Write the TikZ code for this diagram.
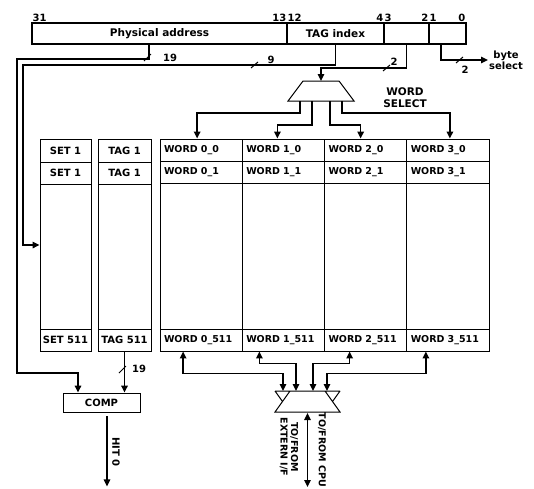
\documentclass[tikz,border=0pt]{standalone}
\usepackage{fontspec}
\setmainfont{DejaVu Sans}
\usetikzlibrary{arrows.meta,positioning,calc}

\begin{document}
\begin{tikzpicture}[x=1pt,y=-1pt,
 every node/.style={font=\fontsize{10}{11}\selectfont\bfseries},
 fld/.style={draw,line width=1.2pt,minimum height=21pt,inner sep=0pt,font=\fontsize{10.5}{12}\selectfont\bfseries},
 bit/.style={inner sep=1pt},
 cell/.style={draw,line width=0.9pt,minimum height=22pt,inner sep=0pt},
 wcell/.style={draw,line width=0.9pt,minimum height=22pt,text width=74.25pt,inner xsep=4pt,inner ysep=0pt,align=left,font=\fontsize{9.5}{10.5}\selectfont\bfseries},
 col/.style={draw,line width=0.9pt,minimum height=212pt,inner sep=0pt},
 bus/.style={line width=1.5pt,-{Triangle[length=7pt,width=6.5pt]}},
 bbus/.style={line width=1.5pt,{Triangle[length=7pt,width=6.5pt]}-{Triangle[length=7pt,width=6.5pt]}},
 tick/.style={line width=1pt}]
\useasboundingbox (0,0) rectangle (534,488);

% address register
\node[fld,minimum width=255pt] (phys) at (159.5,33.5) {Physical address};
\node[fld,minimum width=97pt] (tagi) at (335.5,33.5) {TAG index};
\node[fld,minimum width=45pt] (wfld) at (406.5,33.5) {};
\node[fld,minimum width=37pt] (bfld) at (447.5,33.5) {};
\node[bit,anchor=south west] (b31) at (phys.north west) {31};
\node[bit,anchor=south east] (b13) at (phys.north east) {13};
\node[bit,anchor=south west] (b12) at (tagi.north west) {12};
\node[bit,anchor=south east] (b4) at (tagi.north east) {4};
\node[bit,anchor=south west] (b3) at (wfld.north west) {3};
\node[bit,anchor=south east] (b2) at (wfld.north east) {2};
\node[bit,anchor=south west] (b1) at (bfld.north west) {1};
\node[bit,anchor=south east] (b0) at (bfld.north east) {0};

% set and tag columns
\node[col,minimum width=51pt] (scol) at (65.5,245) {};
\node[cell,minimum width=51pt,minimum height=23pt] (s1) at (65.5,150.5) {SET 1};
\node[cell,minimum width=51pt] (s2) at (65.5,173) {SET 1};
\node[cell,minimum width=51pt] (s511) at (65.5,340) {SET 511};
\node[col,minimum width=53pt] (tcol) at (124.5,245) {};
\node[cell,minimum width=53pt,minimum height=23pt] (t1) at (124.5,150.5) {TAG 1};
\node[cell,minimum width=53pt] (t2) at (124.5,173) {TAG 1};
\node[cell,minimum width=53pt] (t511) at (124.5,340) {TAG 511};

% data words
\foreach \i in {0,1,2,3}{
 \node[col,minimum width=82.25pt] (wc\i) at (201.125+82.25*\i,245) {};
 \node[wcell] (w\i-a) at (201.125+82.25*\i,150) {WORD \i\_0};
 \node[wcell] (w\i-b) at (201.125+82.25*\i,172.5) {WORD \i\_1};
 \node[wcell] (w\i-z) at (201.125+82.25*\i,340) {WORD \i\_511};
}

% comparator
\node[draw,line width=0.9pt,minimum width=77pt,minimum height=19pt,inner sep=0pt] (comp) at (101.5,402.5) {COMP};

% word select mux
\coordinate (ws) at (321,91);
\draw[line width=1pt] ($(ws)+(-18,-10)$) -- ($(ws)+(18,-10)$) -- ($(ws)+(33,10)$) -- ($(ws)+(-33,10)$) -- cycle;
\node[align=center,font=\fontsize{10.5}{12}\selectfont\bfseries] (wstxt) at (405,98) {WORD\\SELECT};
\draw[bus] (wfld.south) |- ($(ws)+(0,-23)$) -- ($(ws)+(0,-10)$);
\draw[bus] ($(ws)+(-21,10)$) -- ++(0,12) -| ([xshift=-4pt]w0-a.north);
\draw[bus] ($(ws)+(-9,10)$) -- ++(0,24) -| ([xshift=-6pt]w1-a.north);
\draw[bus] ($(ws)+(9,10)$) -- ++(0,24) -| ([xshift=-5pt]w2-a.north);
\draw[bus] ($(ws)+(21,10)$) -- ++(0,12) -| ([xshift=2pt]w3-a.north);

% address lines
\draw[bus] ([xshift=-10.5pt]phys.south) |- (17,59) -- (17,373) -| ([xshift=-23.5pt]comp.north);
\draw[bus] (tagi.south) |- (23,65) |- (scol.west);
\draw[bus] ([xshift=-6.5pt]bfld.south) |- (488,60) coordinate (bsel);
\node[anchor=west,align=center,inner sep=1pt] (bseltx) at (bsel) {byte\\select};
\draw[tick] (144,61) -- (151,54);
\node (n19a) at (170,58) {19};
\draw[tick] (251,68) -- (258,62);
\node (n9) at (271,60) {9};
\draw[tick] (383,71) -- (390,65);
\node (n2a) at (394,62) {2};
\draw[tick] (456,63) -- (463,57);
\node (n2b) at (465,70) {2};

% tag compare and hit
\draw[bus] (t511.south) -- (t511.south |- comp.north);
\draw[tick] (119,373) -- (126,366);
\node (n19b) at (139,369) {19};
\draw[bus] ([xshift=5.5pt,yshift=-4pt]comp.south) -- ++(0,70) coordinate (hit);
\node[rotate=-90] (hitx) at (116,452) {HIT 0};

% bus mux
\coordinate (io) at (307.5,401.5);
\draw[line width=1pt] ($(io)+(-32.5,-10.5)$) -- ($(io)+(32.5,-10.5)$)
 ($(io)+(-17.5,-10.5)$) -- ($(io)+(17.5,-10.5)$) -- ($(io)+(32.5,10.5)$) -- ($(io)+(-32.5,10.5)$) -- cycle
 ($(io)+(-32.5,-10.5)$) -- ($(io)+(-25,0)$)
 ($(io)+(32.5,-10.5)$) -- ($(io)+(25,0)$);
\coordinate (io0) at ($(io)+(-24.5,-10.5)$);
\coordinate (io1) at ($(io)+(-11.5,-10.5)$);
\coordinate (io2) at ($(io)+(5.5,-10.5)$);
\coordinate (io3) at ($(io)+(19.5,-10.5)$);
\draw[bbus] ([xshift=-18pt]w0-z.south) -- ++(0,22) -| (io0);
\draw[bbus] ([xshift=-24pt]w1-z.south) -- ++(0,12) -| (io1);
\draw[bbus] ([xshift=-16pt]w2-z.south) -- ++(0,12) -| (io2);
\draw[bbus] ([xshift=-22pt]w3-z.south) -- ++(0,22) -| (io3);
\coordinate (cpu) at (307.5,487);
\draw[bbus] ($(io)+(0,11.5)$) -- (cpu);
\node[rotate=-90,font=\fontsize{9.5}{10.5}\selectfont\bfseries] (cpux) at (322,450) {TO/FROM CPU};
\node[rotate=-90,align=center,font=\fontsize{9.5}{10.5}\selectfont\bfseries] (extx) at (289,447) {TO/FROM\\EXTERN I/F};
\end{tikzpicture}
\end{document}
